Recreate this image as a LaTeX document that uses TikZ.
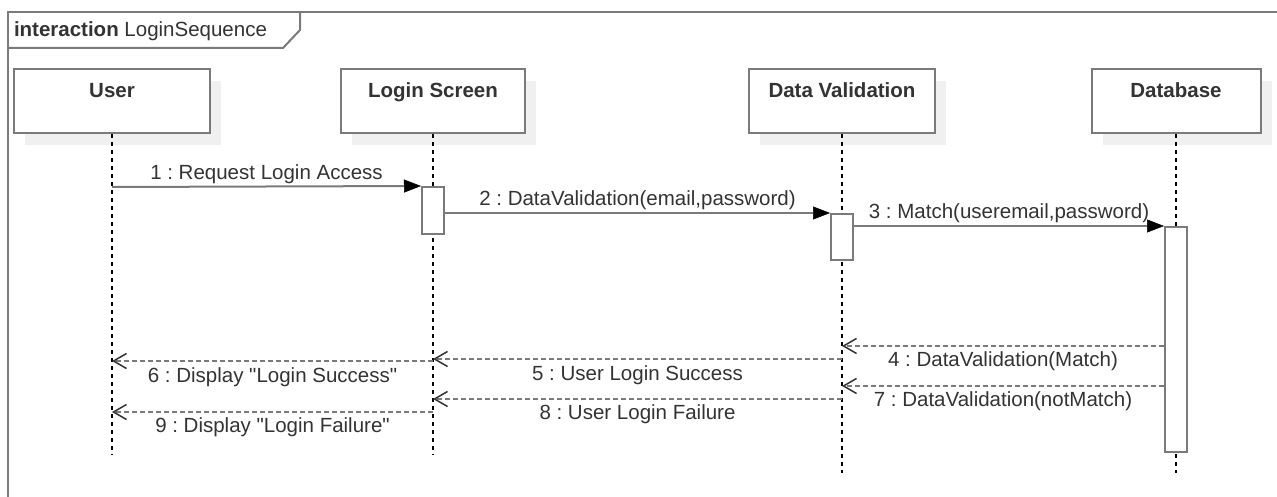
\documentclass[tikz,border=0pt]{standalone}
\usepackage{fontspec}
\setmainfont{Liberation Sans}
\usetikzlibrary{arrows.meta,shadows}
\definecolor{umlline}{HTML}{7A7A7A}
\definecolor{umltext}{HTML}{333333}
\definecolor{umlshadow}{HTML}{F0F0F0}
\newcommand{\umlfont}{\fontsize{20.5}{24}\selectfont}
\frenchspacing

\begin{document}
\begin{tikzpicture}[x=1pt,y=-1pt,line width=2pt]
	\useasboundingbox (0,0) rectangle (1277,497);
	\clip (0,0) rectangle (1277,497);
	\tikzstyle{headbox}=[draw=umlline,fill=white,inner ysep=4,text height=25,text depth=31,font=\umlfont\bfseries,text=umltext,drop shadow={shadow xshift=11pt,shadow yshift=-12pt,fill=umlshadow,opacity=1}]
	\tikzstyle{actbox}=[draw=umlline,fill=white,minimum width=22,inner sep=0]
	\tikzstyle{lifeline}=[black,line width=1.3pt,dash pattern=on 4pt off 4pt]
	\tikzstyle{call}=[umlline,-{Triangle[length=17pt,width=13pt,black,line width=0.5pt]}]
	\tikzstyle{reply}=[umlline,dash pattern=on 5pt off 3pt,-{Straight Barb[length=13pt,width=15pt,umltext,line width=1.5pt]}]
	\tikzstyle{msg}=[font=\umlfont,text=umltext,inner sep=2pt]
	% frame
	\draw[umlline] (8,12) rectangle (1300,520);
	\draw[umlline] (8,48) -- (283,48) -- (300,30) -- (300,12);
	\node[anchor=base west,inner sep=0,font=\umlfont,text=umltext] (frame_t) at (13,37) {\textbf{interaction} LoginSequence};
	% lifeline heads
	\node[headbox,minimum width=196] (User) at (112,101) {User};
	\node[headbox,minimum width=184] (LS) at (433,101) {Login Screen};
	\node[headbox,minimum width=186] (DV) at (842,101) {Data Validation};
	\node[headbox,minimum width=169] (DB) at (1176,101) {Database};
	\coordinate (User_end) at (112,455);
	\coordinate (LS_end) at (433,455);
	\coordinate (DV_end) at (842,473);
	\coordinate (DB_end) at (1176,473);
	\draw[lifeline] (User.south) -- (User_end);
	\draw[lifeline] (LS.south) -- (LS_end);
	\draw[lifeline] (DV.south) -- (DV_end);
	\draw[lifeline] (DB.south) -- (DB_end);
	% activations
	\node[actbox,minimum height=47] (LS_act) at (433,210.5) {};
	\node[actbox,minimum height=46] (DV_act) at (842,237) {};
	\node[actbox,minimum height=225] (DB_act) at (1176,339.5) {};
	% message points
	\coordinate (User_m1) at (112,187);
	\coordinate (DV_m4) at (842,346);
	\coordinate (DV_m5) at (842,359);
	\coordinate (LS_m5) at (433,359);
	\coordinate (LS_m6) at (433,361);
	\coordinate (User_m6) at (112,361);
	\coordinate (DV_m7) at (842,386);
	\coordinate (DV_m8) at (842,399);
	\coordinate (LS_m8) at (433,399);
	\coordinate (LS_m9) at (433,412);
	\coordinate (User_m9) at (112,412);
	% messages
	\draw[call] (User_m1) -- node[msg,above] {1 : Request Login Access} (LS_act.north west);
	\draw[call] (LS_act.east |- DV_act.north) -- node[msg,above] {2 : DataValidation(email,password)} (DV_act.north west);
	\draw[call] (DV_act.east |- DB_act.north) -- node[msg,above] {3 : Match(useremail,password)} (DB_act.north west);
	\draw[reply] (DB_act.west |- DV_m4) -- node[msg,below,inner sep=5pt] {4 : DataValidation(Match)} (DV_m4);
	\draw[reply] (DV_m5) -- node[msg,below,inner sep=6pt] {5 : User Login Success} (LS_m5);
	\draw[reply] (LS_m6) -- node[msg,below,inner sep=6pt] {6 : Display \textquotedbl Login Success\textquotedbl} (User_m6);
	\draw[reply] (DB_act.west |- DV_m7) -- node[msg,below,inner sep=5pt] {7 : DataValidation(notMatch)} (DV_m7);
	\draw[reply] (DV_m8) -- node[msg,below,inner sep=5pt] {8 : User Login Failure} (LS_m8);
	\draw[reply] (LS_m9) -- node[msg,below,inner sep=5pt] {9 : Display \textquotedbl Login Failure\textquotedbl} (User_m9);
\end{tikzpicture}
\end{document}
